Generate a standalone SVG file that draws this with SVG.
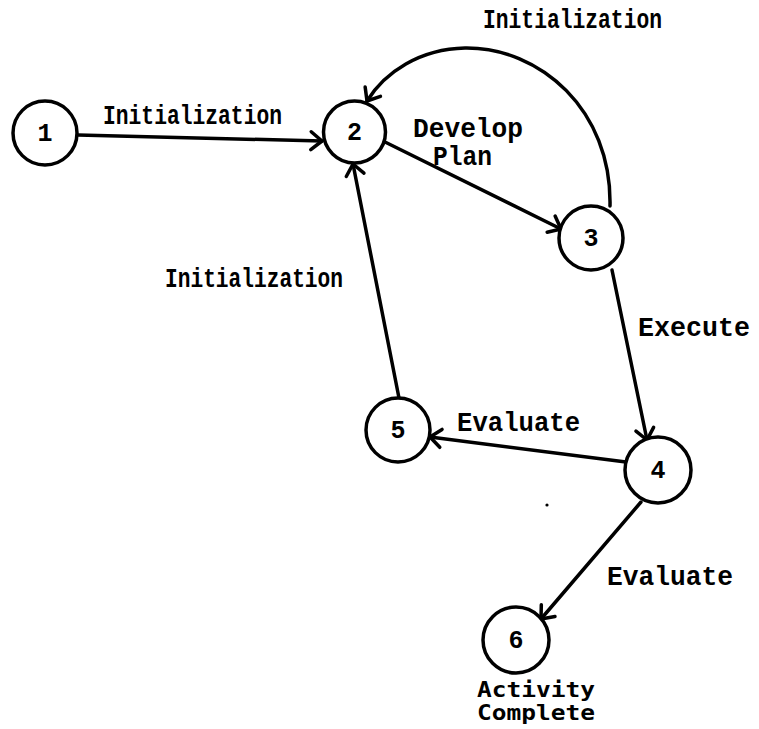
<svg xmlns="http://www.w3.org/2000/svg" width="759" height="729" viewBox="0 0 759 729">
  <style>
    .node { fill: #fff; stroke: #000; stroke-width: 3.5; }
    .num { font-family: "Liberation Mono", "Courier New", monospace; font-weight: bold; font-size: 25px; text-anchor: middle; fill: #000; }
    .edge { fill: none; stroke: #000; stroke-width: 3.5; stroke-linecap: round; marker-end: url(#chev); }
    .lbl { font-family: "Liberation Mono", "Courier New", monospace; font-weight: bold; font-size: 28px; fill: #000; }
    .note { font-family: "DejaVu Sans Mono", "Liberation Mono", monospace; font-weight: bold; font-size: 21px; fill: #000; }
  </style>
  <defs>
    <marker id="chev" viewBox="-16 -12 20 24" markerWidth="20" markerHeight="24" refX="0" refY="0" orient="auto" markerUnits="userSpaceOnUse">
      <path d="M-11,-9 L0,0 L-11,9" fill="none" stroke="#000" stroke-width="3.5" stroke-linecap="round" stroke-linejoin="round"/>
    </marker>
  </defs>
  <rect width="759" height="729" fill="#fff"/>

  <g id="connectors">
    <path class="edge" d="M78,135 L322,141"/>
    <path class="edge" d="M385,142 L561,229"/>
    <path class="edge" d="M610,206 C612,110 540,47 465,48 C420,49 385,72 367,101"/>
    <path class="edge" d="M612,270 L647,440"/>
    <path class="edge" d="M626,462 L430,437"/>
    <path class="edge" d="M399,398 L353,164"/>
    <path class="edge" d="M641,502 L541,619"/>
  </g>

  <g id="node1">
    <circle class="node" cx="45" cy="133" r="32"/>
    <text class="num" x="45" y="141">1</text>
  </g>
  <g id="node2">
    <circle class="node" cx="354.5" cy="132" r="31"/>
    <text class="num" x="354.5" y="140">2</text>
  </g>
  <g id="node3">
    <circle class="node" cx="591" cy="238" r="32"/>
    <text class="num" x="591" y="246">3</text>
  </g>
  <g id="node4">
    <circle class="node" cx="658" cy="470" r="33"/>
    <text class="num" x="658" y="478">4</text>
  </g>
  <g id="node5">
    <circle class="node" cx="398" cy="430" r="32"/>
    <text class="num" x="398" y="438">5</text>
  </g>
  <g id="node6">
    <circle class="node" cx="516" cy="640" r="33"/>
    <text class="num" x="516" y="648">6</text>
  </g>

  <g id="labels">
    <text class="lbl" x="483" y="28" textLength="179" lengthAdjust="spacingAndGlyphs">Initialization</text>
    <text class="lbl" x="103" y="124" textLength="179" lengthAdjust="spacingAndGlyphs">Initialization</text>
    <text class="lbl" x="165" y="287" textLength="178" lengthAdjust="spacingAndGlyphs">Initialization</text>
    <text class="lbl" x="413" y="137" textLength="110" lengthAdjust="spacingAndGlyphs">Develop</text>
    <text class="lbl" x="433" y="165" textLength="59" lengthAdjust="spacingAndGlyphs">Plan</text>
    <text class="lbl" x="638" y="336" textLength="112" lengthAdjust="spacingAndGlyphs">Execute</text>
    <text class="lbl" x="457" y="431" textLength="123" lengthAdjust="spacingAndGlyphs">Evaluate</text>
    <text class="lbl" x="607" y="585" textLength="126" lengthAdjust="spacingAndGlyphs">Evaluate</text>
    <text class="note" x="477" y="697" textLength="118" lengthAdjust="spacingAndGlyphs">Activity</text>
    <text class="note" x="477" y="720" textLength="118" lengthAdjust="spacingAndGlyphs">Complete</text>
  </g>

  <!-- stray ink speck -->
  <circle cx="547" cy="505" r="1.6" fill="#000"/>
</svg>
